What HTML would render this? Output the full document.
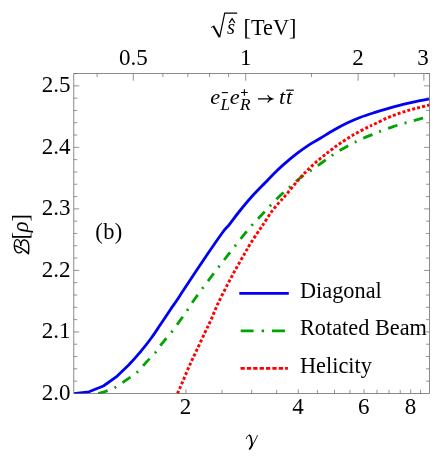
<!DOCTYPE html><html><head><meta charset="utf-8"><style>html,body{margin:0;padding:0;background:#fff}svg{display:block;will-change:transform}text{font-family:"Liberation Serif",serif;fill:#000}</style></head><body>
<svg width="443" height="468" viewBox="0 0 443 468">
<rect width="443" height="468" fill="#fff"/>
<defs><clipPath id="c"><rect x="73.8" y="73.5" width="355.6" height="320.5"/></clipPath></defs>
<g clip-path="url(#c)" fill="none" stroke-linejoin="round">
<path d="M73.70 393.60 L89.00 391.80 L103.40 386.00 L116.20 376.90 L128.70 365.10 C130.58 362.98 136.23 356.92 140.00 352.40 C143.77 347.88 147.92 342.60 151.30 338.00 C154.68 333.40 157.18 329.43 160.30 324.80 C163.42 320.17 167.23 314.30 170.00 310.20 C172.77 306.10 174.58 303.65 176.90 300.20 C179.22 296.75 179.35 296.37 183.90 289.50 C188.45 282.63 197.82 268.42 204.20 259.00 C210.58 249.58 218.05 238.68 222.20 233.00 C226.35 227.32 226.38 228.32 229.10 224.90 C231.82 221.48 234.67 217.27 238.50 212.50 C242.33 207.73 247.58 201.33 252.10 196.30 C256.62 191.27 261.77 186.27 265.60 182.30 C269.43 178.33 272.12 175.45 275.10 172.50 C278.08 169.55 279.78 167.82 283.50 164.60 C287.22 161.38 292.88 156.65 297.40 153.20 C301.92 149.75 306.78 146.40 310.60 143.90 C314.42 141.40 316.48 140.48 320.30 138.20 C324.12 135.92 329.03 132.73 333.50 130.20 C337.97 127.67 342.58 125.17 347.10 123.00 C351.62 120.83 355.95 118.97 360.60 117.20 C365.25 115.43 370.35 113.87 375.00 112.40 C379.65 110.93 383.98 109.68 388.50 108.40 C393.02 107.12 397.58 105.83 402.10 104.70 C406.62 103.57 411.03 102.57 415.60 101.60 C420.17 100.63 427.18 99.35 429.50 98.90" stroke="#0000f4" stroke-width="2.8"/>
<path d="M98.30 393.60 C99.60 393.20 103.30 392.22 106.10 391.20 C108.90 390.18 111.72 389.38 115.10 387.50 C118.48 385.62 122.63 382.53 126.40 379.90 C130.17 377.27 134.30 374.75 137.70 371.70 C141.10 368.65 143.78 364.87 146.80 361.60 C149.82 358.33 153.60 354.68 155.80 352.10 C158.00 349.52 158.50 348.10 160.00 346.10 C161.50 344.10 162.73 342.60 164.80 340.10 C166.87 337.60 169.78 334.47 172.40 331.10 C175.02 327.73 178.05 323.28 180.50 319.90 C182.95 316.52 184.67 314.37 187.10 310.80 C189.53 307.23 191.12 304.13 195.10 298.50 C199.08 292.87 205.73 283.97 211.00 277.00 C216.27 270.03 221.43 263.47 226.70 256.70 C231.97 249.93 238.37 241.68 242.60 236.40 C246.83 231.12 248.93 228.57 252.10 225.00 C255.27 221.43 258.52 218.28 261.60 215.00 C264.68 211.72 267.40 208.62 270.60 205.30 C273.80 201.98 277.60 198.15 280.80 195.10 C284.00 192.05 286.80 189.68 289.80 187.00 C292.80 184.32 295.37 181.70 298.80 179.00 C302.23 176.30 306.63 173.47 310.40 170.80 C314.17 168.13 318.13 165.32 321.40 163.00 C324.67 160.68 327.07 158.93 330.00 156.90 C332.93 154.87 335.93 152.67 339.00 150.80 C342.07 148.93 345.58 147.20 348.40 145.70 C351.22 144.20 353.42 143.05 355.90 141.80 C358.38 140.55 360.60 139.40 363.30 138.20 C366.00 137.00 369.32 135.73 372.10 134.60 C374.88 133.47 376.58 132.70 380.00 131.40 C383.42 130.10 388.35 128.22 392.60 126.80 C396.85 125.38 401.22 124.15 405.50 122.90 C409.78 121.65 414.30 120.38 418.30 119.30 C422.30 118.22 427.63 116.88 429.50 116.40" stroke="#00a400" stroke-width="2.8" stroke-dasharray="9.8 7.45 2 7.45"/>
<path d="M177.50 393.60 C178.35 391.65 180.63 386.48 182.60 381.90 C184.57 377.32 186.87 371.57 189.30 366.10 C191.73 360.63 194.57 354.75 197.20 349.10 C199.83 343.45 202.80 337.07 205.10 332.20 C207.40 327.33 208.90 324.58 211.00 319.90 C213.10 315.22 215.08 309.73 217.70 304.10 C220.32 298.47 223.68 291.93 226.70 286.10 C229.72 280.27 232.78 274.57 235.80 269.10 C238.82 263.63 242.43 257.43 244.80 253.30 C247.17 249.17 247.58 248.17 250.00 244.30 C252.42 240.43 257.13 233.35 259.30 230.10 C261.47 226.85 261.05 227.73 263.00 224.80 C264.95 221.87 268.30 216.23 271.00 212.50 C273.70 208.77 276.87 205.13 279.20 202.40 C281.53 199.67 281.80 199.85 285.00 196.10 C288.20 192.35 294.13 184.72 298.40 179.90 C302.67 175.08 306.75 170.92 310.60 167.20 C314.45 163.48 318.27 160.33 321.50 157.60 C324.73 154.87 326.87 153.20 330.00 150.80 C333.13 148.40 336.32 145.90 340.30 143.20 C344.28 140.50 349.38 137.23 353.90 134.60 C358.42 131.97 363.88 129.20 367.40 127.40 C370.92 125.60 371.48 125.47 375.00 123.80 C378.52 122.13 383.98 119.32 388.50 117.40 C393.02 115.48 397.58 113.80 402.10 112.30 C406.62 110.80 411.03 109.62 415.60 108.40 C420.17 107.18 427.18 105.57 429.50 105.00" stroke="#ff0000" stroke-width="2.9" stroke-dasharray="3.0 2.1"/>
</g>
<path d="M185.90 393.45 v-4.20 M222.09 393.45 v-3.60 M251.65 393.45 v-3.60 M276.65 393.45 v-3.60 M298.30 393.45 v-4.20 M317.40 393.45 v-3.60 M334.49 393.45 v-3.60 M349.95 393.45 v-3.60 M364.06 393.45 v-4.20 M377.04 393.45 v-3.60 M389.06 393.45 v-3.60 M400.24 393.45 v-3.60 M410.71 393.45 v-4.20 M420.54 393.45 v-3.60 M97.12 73.45 v3.60 M133.30 73.45 v7.30 M162.87 73.45 v3.60 M187.87 73.45 v3.60 M209.52 73.45 v3.60 M228.62 73.45 v3.60 M245.71 73.45 v7.30 M311.46 73.45 v3.60 M358.11 73.45 v7.30 M394.30 73.45 v3.60 M423.86 73.45 v7.30 M73.80 381.13 h3.40 M429.45 381.13 h-3.40 M73.80 368.82 h3.40 M429.45 368.82 h-3.40 M73.80 356.52 h3.40 M429.45 356.52 h-3.40 M73.80 344.21 h3.40 M429.45 344.21 h-3.40 M73.80 331.91 h5.40 M429.45 331.91 h-5.40 M73.80 319.61 h3.40 M429.45 319.61 h-3.40 M73.80 307.30 h3.40 M429.45 307.30 h-3.40 M73.80 295.00 h3.40 M429.45 295.00 h-3.40 M73.80 282.69 h3.40 M429.45 282.69 h-3.40 M73.80 270.39 h5.40 M429.45 270.39 h-5.40 M73.80 258.09 h3.40 M429.45 258.09 h-3.40 M73.80 245.78 h3.40 M429.45 245.78 h-3.40 M73.80 233.48 h3.40 M429.45 233.48 h-3.40 M73.80 221.17 h3.40 M429.45 221.17 h-3.40 M73.80 208.87 h5.40 M429.45 208.87 h-5.40 M73.80 196.57 h3.40 M429.45 196.57 h-3.40 M73.80 184.26 h3.40 M429.45 184.26 h-3.40 M73.80 171.96 h3.40 M429.45 171.96 h-3.40 M73.80 159.65 h3.40 M429.45 159.65 h-3.40 M73.80 147.35 h5.40 M429.45 147.35 h-5.40 M73.80 135.05 h3.40 M429.45 135.05 h-3.40 M73.80 122.74 h3.40 M429.45 122.74 h-3.40 M73.80 110.44 h3.40 M429.45 110.44 h-3.40 M73.80 98.13 h3.40 M429.45 98.13 h-3.40 M73.80 85.83 h5.40 M429.45 85.83 h-5.40 M73.80 73.53 h3.40 M429.45 73.53 h-3.40" stroke="#666666" stroke-width="0.7" fill="none"/>
<rect x="73.8" y="73.5" width="355.6" height="320.0" fill="none" stroke="#666666" stroke-width="0.75"/>
<text x="70.6" y="399.8" font-size="23.0" text-anchor="end">2.0</text>
<text x="70.6" y="338.3" font-size="23.0" text-anchor="end">2.1</text>
<text x="70.6" y="276.8" font-size="23.0" text-anchor="end">2.2</text>
<text x="70.6" y="215.3" font-size="23.0" text-anchor="end">2.3</text>
<text x="70.6" y="153.8" font-size="23.0" text-anchor="end">2.4</text>
<text x="70.6" y="92.2" font-size="23.0" text-anchor="end">2.5</text>
<text x="185.6" y="414" font-size="23.0" text-anchor="middle">2</text>
<text x="298.0" y="414" font-size="23.0" text-anchor="middle">4</text>
<text x="363.8" y="414" font-size="23.0" text-anchor="middle">6</text>
<text x="410.4" y="414" font-size="23.0" text-anchor="middle">8</text>
<text x="133.3" y="64.9" font-size="23.0" text-anchor="middle">0.5</text>
<text x="245.7" y="64.9" font-size="23.0" text-anchor="middle">1</text>
<text x="358.1" y="64.9" font-size="23.0" text-anchor="middle">2</text>
<text x="423.1" y="64.9" font-size="23.0" text-anchor="middle">3</text>
<path d="M239.3 293.3 H288.8" stroke="#0000f4" stroke-width="2.8" fill="none"/>
<path d="M240.7 330.9 H285" stroke="#00a400" stroke-width="2.8" stroke-dasharray="12.9 8.1 2.4 7.9" fill="none"/>
<path d="M240.5 368.4 H287.9" stroke="#ff0000" stroke-width="2.8" stroke-dasharray="4.3 2.07" fill="none"/>
<text x="300" y="297.6" font-size="22.3">Diagonal</text>
<text x="300" y="335.3" font-size="22.3">Rotated Beam</text>
<text x="300" y="372.8" font-size="22.3">Helicity</text>
<text x="95.3" y="239" font-size="22.5" letter-spacing="0.4">(b)</text>
<g fill="none" stroke="#000" stroke-linecap="round"><path d="M246.2 438.7 C246.8 436.5 248.2 435.1 249.5 435.2" stroke-width="0.9"/><path d="M249.5 435.3 C251.3 435.6 251.5 440 252 444.8" stroke-width="1.7"/><path d="M257.4 435.6 C256.6 438.2 254.4 441.6 252.3 445" stroke-width="0.9"/><path d="M252.2 444.6 C251.4 446.6 250.4 448.2 249.7 448.9" stroke-width="1.9"/></g>
<text x="243.5" y="34.6" font-size="22.3">[TeV]</text>
<text x="226.9" y="34.2" font-size="20.5" font-style="italic">s</text>
<path d="M211 27.6 l2.6 -1.6" stroke="#000" stroke-width="0.9" fill="none"/>
<path d="M213.4 26 l6.0 11.0" stroke="#000" stroke-width="1.9" fill="none"/>
<path d="M219.6 37.4 L224.7 13.2 H237.2" stroke="#000" stroke-width="1.2" fill="none" stroke-linejoin="miter"/>
<path d="M229.3 23 l2.8 -4.4 l2.8 4.4" stroke="#000" stroke-width="1.3" fill="none"/>
<text transform="translate(210.30,104.10) scale(1.080,1)" font-size="20.8" font-style="italic">e</text>
<text transform="translate(220.60,109.80) scale(1.080,1)" font-size="16.0" font-style="italic">L</text>
<path d="M221.8 92.6 H227.9" stroke="#000" stroke-width="1.1" fill="none"/>
<text transform="translate(229.80,104.10) scale(1.080,1)" font-size="20.8" font-style="italic">e</text>
<text transform="translate(240.00,109.80) scale(1.080,1)" font-size="16.0" font-style="italic">R</text>
<path d="M241 92.5 H247.7 M244.35 89.2 V95.8" stroke="#000" stroke-width="1.1" fill="none"/>
<path d="M257.9 98.9 H271.6 M267.6 95.3 Q269 98 272.3 98.9 Q269 99.8 267.6 102.5" stroke="#000" stroke-width="1.2" fill="none"/>
<text transform="translate(279.10,104.10) scale(1.080,1)" font-size="20.8" font-style="italic">t</text>
<text transform="translate(285.90,104.10) scale(1.080,1)" font-size="20.8" font-style="italic">t</text>
<path d="M286.2 90.2 H293.8" stroke="#000" stroke-width="1.2" fill="none"/>
<g transform="translate(28.7,254) rotate(-90)"><text x="14.4" y="-0.7" font-size="22.4">[<tspan font-style="italic">ρ</tspan>]</text>
<g transform="translate(-0.4,0.3)" fill="none" stroke="#000" stroke-linecap="round" stroke-linejoin="round"><path d="M8.4 -13.2 C7.6 -9.5 4.6 -5 0.9 -0.6" stroke-width="1.7"/>
<path d="M3 -7.2 C1.2 -8.2 0.8 -11 2.8 -12.8 C4.5 -14.3 7.5 -14.8 10 -14.7 C12.8 -14.6 14.8 -13.6 14.7 -11.8 C14.6 -10 12.5 -8.6 9 -8.2" stroke-width="1.25"/>
<path d="M9 -8.2 C12.5 -8.3 14.6 -6.8 14.4 -4.5 C14.2 -1.8 11 -0.2 7 -0.2 C4.5 -0.2 2.5 -0.4 0.9 -0.6" stroke-width="1.4"/></g></g>
</svg></body></html>
